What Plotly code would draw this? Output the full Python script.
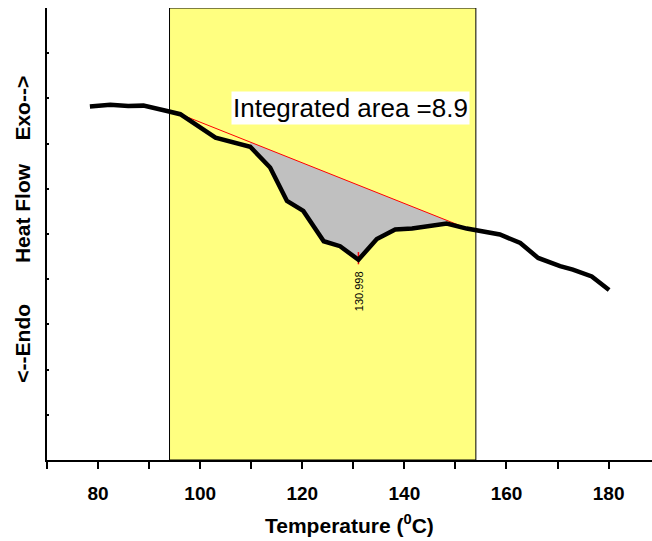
import plotly.graph_objects as go

# Curve data (Temperature in °C, heat flow in arbitrary units)
temp = [78.4, 82.4, 85.9, 88.9, 93.5, 96.1, 103.0, 109.8, 113.7, 117.0, 120.2,
        124.2, 127.4, 131.0, 134.6, 138.2, 141.5, 148.3, 152.2, 158.7, 162.7,
        166.2, 170.5, 173.0, 176.7, 180.1]
heat = [7.82, 7.86, 7.83, 7.84, 7.72, 7.65, 7.13, 6.93, 6.47, 5.73, 5.51,
        4.84, 4.73, 4.43, 4.89, 5.10, 5.12, 5.23, 5.12, 4.99, 4.80,
        4.47, 4.29, 4.21, 4.06, 3.76]

# Integration baseline
base_x = [96.1, 151.9]
base_y = [7.65, 5.14]

# Integration region (highlighted)
region_x = [94.0, 154.0]

# Grey-filled part of the curve (indices into curve arrays)
fill_start, fill_end = 7, 17

peak_x = 130.998
peak_label = "130.998"
area_label = "Integrated area =8.9"

xticks = [80, 100, 120, 140, 160, 180]

FONT = "Arial, Liberation Sans, sans-serif"


def base_at(x):
    return base_y[0] + (x - base_x[0]) * (base_y[1] - base_y[0]) / (base_x[1] - base_x[0])


fx = temp[fill_start:fill_end + 1]
fy = heat[fill_start:fill_end + 1]
poly_x = fx + fx[::-1]
poly_y = fy + [base_at(x) for x in fx[::-1]]

# curve value at the peak position (nearest point)
peak_idx = min(range(len(temp)), key=lambda i: abs(temp[i] - peak_x))
peak_y = heat[peak_idx]

fig = go.Figure()

fig.add_trace(go.Scatter(x=poly_x, y=poly_y, fill="toself", fillcolor="#C0C0C0",
                         line=dict(width=0), mode="lines", hoverinfo="skip",
                         showlegend=False))
fig.add_trace(go.Scatter(x=base_x, y=base_y, mode="lines",
                         line=dict(color="#FF0000", width=1), showlegend=False))
fig.add_trace(go.Scatter(x=[peak_x, peak_x], y=[peak_y - 0.1, peak_y + 0.17], mode="lines",
                         line=dict(color="#FF0000", width=1.5), showlegend=False))
fig.add_trace(go.Scatter(x=temp, y=heat, mode="lines",
                         line=dict(color="black", width=4.5, shape="linear"),
                         showlegend=False))

fig.add_shape(type="rect", xref="x", yref="y", x0=region_x[0], x1=region_x[1],
              y0=0, y1=10, fillcolor="#FFFF80", line=dict(color="black", width=1),
              layer="below")

fig.add_annotation(x=129.5, y=7.78, xref="x", yref="y", text=area_label,
                   showarrow=False, bgcolor="white", borderpad=1,
                   font=dict(family=FONT, size=26, color="black"))
fig.add_annotation(x=peak_x, y=peak_y, xref="x", yref="y", text=peak_label,
                   showarrow=False, textangle=-90, yshift=-31,
                   font=dict(family=FONT, size=11, color="black"))

# Axis titles
fig.add_annotation(x=0.5, y=-0.141, xref="paper", yref="paper",
                   xanchor="center", yanchor="middle", showarrow=False,
                   text="<b>Temperature (<sup>0</sup>C)</b>",
                   font=dict(family=FONT, size=21, color="black"))
sp = "\u00a0"
fig.add_annotation(x=-0.041, y=0.51, xref="paper", yref="paper",
                   xanchor="center", yanchor="middle", showarrow=False,
                   textangle=-90,
                   text="<b><--Endo" + sp * 7 + "Heat Flow" + sp * 4 + "Exo--></b>",
                   font=dict(family=FONT, size=21, color="black"))

fig.update_layout(
    width=652, height=541,
    margin=dict(l=47, r=0, t=8, b=81),
    plot_bgcolor="white", paper_bgcolor="white",
    xaxis=dict(range=[70, 188.5], tickvals=xticks, ticks="outside", ticklen=7,
               tickwidth=2, tickcolor="black", showline=True, linecolor="black",
               linewidth=2, showgrid=False, zeroline=False,
               ticklabelstandoff=8,
               tickfont=dict(family=FONT, size=19, color="black", weight="bold"),
               minor=dict(dtick=10, tick0=70, ticks="outside", ticklen=7,
                          tickwidth=2, tickcolor="black", showgrid=False)),
    yaxis=dict(range=[0, 10], dtick=1, ticks="inside", ticklen=2, tickwidth=2,
               tickcolor="black", showticklabels=False, showline=True,
               linecolor="black", linewidth=2, showgrid=False, zeroline=False),
)

fig.write_html("out.html")
